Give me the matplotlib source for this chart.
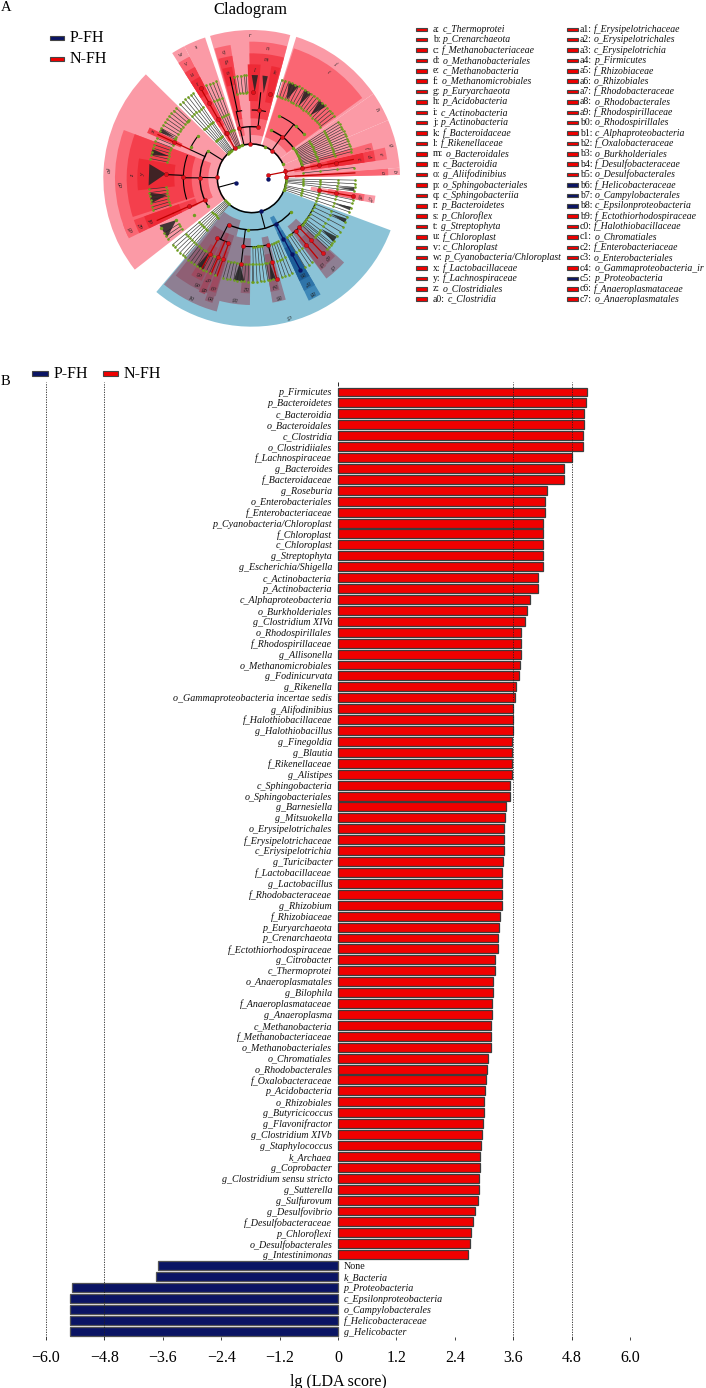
import matplotlib
matplotlib.use("Agg")
import matplotlib.pyplot as plt
from matplotlib.patches import Wedge, Rectangle, Polygon, Arc, Circle
import numpy as np

plt.rcParams['font.family'] = ['Liberation Serif', 'DejaVu Serif']

# ---------------- LDA bars ----------------
taxa_pos = ["p_Firmicutes","p_Bacteroidetes","c_Bacteroidia","o_Bacteroidales","c_Clostridia","o_Clostridiiales",
"f_Lachnospiraceae","g_Bacteroides","f_Bacteroidaceae","g_Roseburia","o_Enterobacteriales","f_Enterobacteriaceae",
"p_Cyanobacteria/Chloroplast","f_Chloroplast","c_Chloroplast","g_Streptophyta","g_Escherichia/Shigella","c_Actinobacteria",
"p_Actinobacteria","c_Alphaproteobacteria","o_Burkholderiales","g_Clostridium XIVa","o_Rhodospirillales","f_Rhodospirillaceae",
"g_Allisonella","o_Methanomicrobiales","g_Fodinicurvata","g_Rikenella","o_Gammaproteobacteria incertae sedis","g_Alifodinibius",
"f_Halothiobacillaceae","g_Halothiobacillus","g_Finegoldia","g_Blautia","f_Rikenellaceae","g_Alistipes","c_Sphingobacteria",
"o_Sphingobacteriales","g_Barnesiella","g_Mitsuokella","o_Erysipelotrichales","f_Erysipelotrichaceae","c_Eriysipelotrichia",
"g_Turicibacter","f_Lactobacillaceae","g_Lactobacillus","f_Rhodobacteraceae","g_Rhizobium","f_Rhizobiaceae","p_Euryarchaeota",
"p_Crenarchaeota","f_Ectothiorhodospiraceae","g_Citrobacter","c_Thermoprotei","o_Anaeroplasmatales","g_Bilophila",
"f_Anaeroplasmataceae","g_Anaeroplasma","c_Methanobacteria","f_Methanobacteriaceae","o_Methanobacteriales","o_Chromatiales",
"o_Rhodobacterales","f_Oxalobacteraceae","p_Acidobacteria","o_Rhizobiales","g_Butyricicoccus","g_Flavonifractor",
"g_Clostridium XIVb","g_Staphylococcus","k_Archaea","g_Coprobacter","g_Clostridium sensu stricto","g_Sutterella","g_Sulfurovum",
"g_Desulfovibrio","f_Desulfobacteraceae","p_Chloroflexi","o_Desulfobacterales","g_Intestinimonas"]
scores_pos = [5.12,5.09,5.06,5.06,5.03,5.03,4.80,4.64,4.64,4.29,4.26,4.26,4.22,4.22,4.22,4.22,4.21,4.10,4.10,3.94,3.88,3.84,
3.77,3.77,3.77,3.73,3.71,3.66,3.63,3.60,3.59,3.59,3.58,3.58,3.57,3.57,3.54,3.53,3.46,3.44,3.41,3.41,3.41,3.39,3.38,3.38,3.37,
3.36,3.33,3.30,3.29,3.28,3.23,3.22,3.19,3.18,3.17,3.17,3.15,3.14,3.14,3.08,3.07,3.04,3.02,3.00,2.99,2.97,2.96,2.94,2.92,2.91,
2.90,2.89,2.88,2.82,2.77,2.74,2.71,2.68]
taxa_neg = ["None","k_Bacteria","p_Proteobacteria","c_Epsilonproteobacteria","o_Campylobacterales","f_Helicobacteraceae","g_Helicobacter"]
scores_neg = [-3.70,-3.74,-5.46,-5.50,-5.50,-5.50,-5.50]
xticks = [-6.0,-4.8,-3.6,-2.4,-1.2,0,1.2,2.4,3.6,4.8,6.0]
xticklabels = ["\u22126.0","\u22124.8","\u22123.6","\u22122.4","\u22121.2","0","1.2","2.4","3.6","4.8","6.0"]

# ---------------- cladogram key ----------------
key_col1 = [("a","c_Thermoprotei"),("b","p_Crenarchaeota"),("c","f_Methanobacteriaceae"),("d","o_Methanobacteriales"),
("e","c_Methanobacteria"),("f","o_Methanomicrobiales"),("g","p_Euryarchaeota"),("h","p_Acidobacteria"),("i","c_Actinobacteria"),
("j","p_Actinobacteria"),("k","f_Bacteroidaceae"),("l","f_Rikenellaceae"),("m","o_Bacteroidales"),("n","c_Bacteroidia"),
("o","g_Aliifodinibius"),("p","o_Sphingobacteriales"),("q","c_Sphingobacteriia"),("r","p_Bacteroidetes"),("s","p_Chloroflex"),
("t","g_Streptophyta"),("u","f_Chloroplast"),("v","c_Chloroplast"),("w","p_Cyanobacteria/Chloroplast"),("x","f_Lactobacillaceae"),
("y","f_Lachnospiraceae"),("z","o_Clostridiales"),("a0","c_Clostridia")]
key_col2 = [("a1","f_Erysipelotrichaceae"),("a2","o_Erysipelotrichales"),("a3","c_Erysipelotrichia"),("a4","p_Firmicutes"),
("a5","f_Rhizobiaceae"),("a6","o_Rhizobiales"),("a7","f_Rhodobacteraceae"),("a8","o_Rhodobacterales"),("a9","f_Rhodospirillaceae"),
("b0","o_Rhodospirillales"),("b1","c_Alphaproteobacteria"),("b2","f_Oxalobacteraceae"),("b3","o_Burkholderiales"),
("b4","f_Desulfobacteraceae"),("b5","o_Desulfobacterales"),("b6","f_Helicobacteraceae"),("b7","o_Campylobacterales"),
("b8","c_Epsilonproteobacteria"),("b9","f_Ectothiorhodospiraceae"),("c0","f_Halothiobacillaceae"),("c1","o_Chromatiales"),
("c2","f_Enterobacteriaceae"),("c3","o_Enterobacteriales"),("c4","o_Gammaproteobacteria_ir"),("c5","p_Proteobacteria"),
("c6","f_Anaeroplasmataceae"),("c7","o_Anaeroplasmatales")]
navy_keys = {"b6","b7","b8","c5"}

# ---------------- cladogram geometry tables (degrees, radii in 1/3 px) ----------------
RING = [50,103,155,205,258,310]
PINK="#FB9AA6"; R2="#FA6673"; R3="#F43F4C"; R4="#EE2A36"
BL="#8BC3D7"; P1="#8E7F93"; P2="#8F5F74"; P3="#9E4A60"; E1="#3F88B8"; E2="#2E74A9"; E3="#1D5E98"
# (a0,a1,r0,r1,colour,label)
wedges = [
(135.5,218,100,445,PINK,"a4"),(159.3,205.3,130,410,R2,"a0"),(159.3,198,180,375,R3,"z"),(170,186,232,343,R4,"y"),
(153.5,156.5,232,342,R3,"x"),(199.5,206,130,410,R2,"a3"),(199.5,206,180,375,R3,"a2"),(199.5,206,232,342,R4,"a1"),
(108.3,117,100,445,PINK,"s"),(117,122.4,100,445,PINK,"w"),(117,122.4,130,410,R2,"v"),(117,122.4,180,375,R3,"u"),(117,122.4,285,342,R4,"t"),
(74.9,106.3,100,445,PINK,"r"),(75,91,130,410,R2,"n"),(75,91,180,375,R3,"m"),(85.5,92,232,342,R4,"l"),(75.5,80,232,342,R4,"k"),
(99,106,130,405,R2,"q"),(99,105.5,180,372,R3,"p"),(100,105,285,340,R4,"o"),
(34.8,72.5,100,445,PINK,"j"),(36,72,130,410,R2,"i"),
(23.1,34.8,100,445,PINK,"h"),(4.1,23.1,100,445,PINK,"g"),(8,13,130,410,R2,"e"),(8,13,180,375,R3,"d"),(8,13,232,342,R4,"c"),
(13,16.5,180,375,R2,"f"),(1.3,4.1,100,445,PINK,"b"),(1.3,4.1,130,410,R2,"a"),
(-8,-11.5,180,375,PINK,"c7"),(-8,-11.5,232,342,R2,"c6"),
(230,339.5,100,445,BL,"c5"),(230.4,255.3,130,413,P1,"b1"),(254.6,269.2,180,380,P1,"b3"),(264.5,269,232,345,P2,"b2"),
(279.5,285.7,180,378,P1,"b5"),(279.5,284,232,345,P2,"b4"),
(295,300.7,130,405,E1,"b8"),(295,300.7,180,372,E2,"b7"),(295,300.7,232,340,E3,"b6"),
(306.7,317.7,180,375,P1,"c3"),(310.5,317,232,342,P2,"c0"),(307,310.5,232,345,P2,"c1"),
(232,253,180,370,P2,"a6"),(238,244,232,342,P3,"a5"),(245,248,180,375,P3,"a8"),(245,248,232,342,P3,"a7"),(249,252.5,180,392,P2,"b0"),(249,252.5,232,360,P3,"a9"),
]
# (start level, angles) : unbranched green lineages running to the outer ring
strands = [
(1,[134,132,130,128,126,124.5]),(1,[116,114,112,110]),(2,[33,31.5,30,28.5,27,25.5,24,22.5,21,19.5,18,16.5,15,6]),
(1,[-1,-3,-5,-7,-12,-14,-16.5,-19]),(1,[220,222,224,226,228,229.5]),(3,[-22,-25,-28,-31,-34,-37,-40,-43]),
(3,[301,303.5,305.5,318.5,321]),(3,[271,273,275,277,279,287,289,291,293]),
(4,[137,139,141,143,145,147,149,151,153,157,159,161,163,165,167,169,186,188,190,192,194,196,198]),
(4,[96,98,100,93,94,73,71,69,67,65,63,61,59,57,55,53,51,49,47,45,43,41,39,37]),
(4,[232,234,236,238,240,242,244,246,249,254,256,258,260,262,264,266,268,270,280,282,284]),
(4,[212,214,216]),
]
# (level, apex angle, tip a0, tip a1) : dense black fans of tips
fans = [(4,177,172,184),(4,165,163.5,167),(4,191,188,194),(4,209,207,215),(4,82,81,84),(4,66,63,69),(4,88,86.5,90),(4,57,55,59),
(4,47,44,49),(4,152,151,153.5),(4,262,260,266),(4,240,238,242),(4,282,280.5,283.5),(4,-24,-23,-25.5),(4,-36,-34.5,-38),
(4,-6,-5,-7),(4,-17,-16,-18)]
# (level, a0, a1, colour) : connecting arcs
arcs = [(1,25,358,'k'),(1,4,16,'#c00'),(2,103.8,82.5,'k'),(2,147.8,213,'k'),(2,243,320,'k'),(2,68,36,'k'),(2,11,33,'k'),
(3,66,40,'k'),(3,141.6,153,'k'),(3,160,198,'k'),(3,263,284,'k'),(3,240,250,'k'),(3,303,338,'k'),(3,103,98,'k'),(3,78,90,'k')]
# (level from, level to, angle, colour) : red / navy highlighted links
links = [(0,1,195,'k'),(0,1,11,'#c00000'),(1,2,179,'k'),(2,3,179.5,'k'),(3,4,177.5,'k'),(1,2,92,'k'),(2,3,83,'k'),(3,4,84,'k'),
(1,2,54,'k'),(2,3,52,'k'),(2,3,205,'#c00000'),(3,4,204,'#c00000'),(4,5,204,'#c00000'),(1,2,148,'k'),(1,2,285,'k'),
(2,3,297.6,'#0a1464'),(3,4,298,'#0a1464'),(4,5,298,'#0a1464'),(3,4,314,'#c00000'),(4,5,313.5,'#c00000'),(3,4,309.5,'#c00000'),(4,5,309.5,'#c00000'),
(3,4,241,'#c00000'),(4,5,241,'#c00000'),(3,4,247,'#c00000'),(4,5,247,'#c00000'),(2,3,243,'k'),(3,4,250.5,'#c00000'),(4,5,250.5,'#c00000'),
(2,3,263,'k'),(3,4,263,'k'),(3,4,284,'k'),(4,5,284,'#c00000'),(3,4,119.5,'#c00000'),(4,5,119.5,'#c00000'),(2,3,119.5,'#c00000'),(1,2,119.5,'#c00000'),
(1,2,11,'#c00000'),(2,3,11,'#c00000'),(3,4,10.5,'#c00000'),(4,5,10.5,'#c00000'),(1,5,3,'#c00000'),(3,5,-10,'#c00000'),(2,3,155,'k'),
(3,4,155,'#c00000'),(4,5,155,'#c00000'),(1,2,103,'k'),(2,3,103,'k'),(3,5,102,'k'),(0,0,-2,'k')]
# (level, angle) of highlighted nodes
red_nodes = [(0,11),(1,178),(2,180),(3,179),(4,177),(1,92),(2,82.5),(2,103.8),(3,83.6),(4,89),(4,78),(1,119.5),(2,119.5),(3,119.5),(4,119.5),(5,119.5),
(1,54),(2,54),(1,13),(2,11),(3,11),(4,10.5),(1,3),(3,-10),(4,-10),(5,-10),(4,155),(2,205),(3,204),(2,243.4),(3,240),(3,250),(3,263),(3,284),(3,310),(3,314),(4,314),(4,309),(5,313.5),
(4,241),(4,247),(4,250.5),(4,263),(4,284),(5,284),(2,119)]
navy_nodes = [(0,195),(0,-2),(1,285),(2,297.5),(3,297.6),(4,298),(5,298)]
green_nodes = [(1,131),(1,106),(1,68),(2,147.8),(2,266),(2,320),(2,68),(2,36),(2,213),(3,141.6),(3,153),(3,212),(3,50),(3,66),(3,40),(3,275.5),(1,25),(1,-20),(4,138),(4,153),(4,209),(5,209)]

# ---------------- figure ----------------
W, H = 706, 1388
fig = plt.figure(figsize=(W/100, H/100), dpi=100)

def axpx(x0, y0, x1, y1, **k):
    return fig.add_axes([x0/W, 1-y1/H, (x1-x0)/W, (y1-y0)/H], **k)

# Panel B bars
ax = axpx(46, 382, 630, 1340)
ypos_p = np.arange(len(taxa_pos))
ypos_n = np.arange(len(taxa_neg)) + len(taxa_pos)
ax.barh(ypos_p, scores_pos, height=0.82, color="#F00000", edgecolor="#3c3c3c", linewidth=0.9, zorder=2)
ax.barh(ypos_n, scores_neg, height=0.82, color="#0A1464", edgecolor="#555555", linewidth=0.9, zorder=2)
ax.set_xlim(-6, 6)
ytop = (382-392)/10.92
ax.set_ylim((1340-392)/10.92, ytop)
for s in ax.spines.values():
    s.set_visible(False)
ax.set_yticks([])
ax.set_xticks(xticks)
ax.set_xticklabels(xticklabels, fontsize=11.5)
ax.tick_params(axis='x', direction='in', length=2.5, width=0.6, pad=7, color='#222222', top=False, bottom=True)
ax.vlines(0, ytop, ytop+0.4, color='#222222', lw=0.7)
for v in (-6.0,-4.8,3.6,4.8):
    ax.axvline(v, color='#222222', lw=0.6, ls=(0,(1.5,1.5)), zorder=3)
ax.set_xlabel("lg (LDA score)", fontsize=11.5, labelpad=6)
for y, t in zip(ypos_p, taxa_pos):
    ax.annotate(t, (0, y), xytext=(-4.2, -0.7), textcoords='offset points', ha='right', va='center', fontsize=7.2, style='italic', color='#111111')
for y, t in zip(ypos_n, taxa_neg):
    st = 'normal' if t == 'None' else 'italic'
    ax.annotate(t, (0, y), xytext=(4.2, -0.7), textcoords='offset points', ha='left', va='center', fontsize=7.2, style=st, color='#111111')

# Cladogram
c = axpx(0, 0, 410, 340)
c.set_xlim(-755, 1230-755); c.set_ylim(535-1020, 535); c.axis('off'); c.patch.set_alpha(0)
def P(r, a):
    t = np.deg2rad(a); return r*np.cos(t), r*np.sin(t)
for a0, a1, r0, r1, col, lab in wedges:
    lo, hi = min(a0,a1), max(a0,a1)
    c.add_patch(Wedge((0,0), r1, lo, hi, width=r1-r0, facecolor=col, edgecolor='none', zorder=1))
    xm, ym = P(r1-17, (lo+hi)/2)
    c.text(xm, ym, lab, fontsize=4.3, style='italic', rotation=(lo+hi)/2-90, rotation_mode='anchor', ha='center', va='center', color='#222222', zorder=6)
c.add_patch(Circle((0,0), 100, facecolor='white', edgecolor='none', zorder=1.5))
for lev, a0, a1, col in arcs:
    lo, hi = min(a0,a1), max(a0,a1)
    r = RING[lev]
    lw = {1:1.1,2:1.0,3:0.8}[lev]
    c.add_patch(Arc((0,0), 2*r, 2*r, theta1=lo, theta2=hi, color=col, lw=lw, zorder=3))
for lev, angs in strands:
    for a in angs:
        xs, ys = zip(P(RING[lev], a), P(RING[5], a))
        c.plot(xs, ys, color='#333333', lw=0.45, zorder=3)
        gx, gy = zip(*[P(RING[l], a) for l in range(lev, 6)])
        c.scatter(gx, gy, s=3.4, color='#6E9E1E', linewidths=0, zorder=5)
for lev, ap, a0, a1 in fans:
    c.add_patch(Polygon([P(RING[lev], ap), P(RING[5], a0), P(RING[5], a1)], closed=True, facecolor='#222222', alpha=0.85, edgecolor='none', zorder=3))
for l0, l1, a, col in links:
    xs, ys = zip(P(RING[l0], a), P(RING[l1], a))
    c.plot(xs, ys, color=col, lw=0.9 if col != 'k' else 0.8, zorder=4)
for l, a in green_nodes:
    x, y = P(RING[l], a); c.scatter([x],[y], s=6, color='#6E9E1E', linewidths=0, zorder=5.5)
for l, a in red_nodes:
    x, y = P(RING[l], a); c.scatter([x],[y], s=9, color='#E0101A', edgecolors='#5a0000', linewidths=0.2, zorder=6)
for l, a in navy_nodes:
    x, y = P(RING[l], a); c.scatter([x],[y], s=10, color='#0A1464', linewidths=0, zorder=6)

# Overlay in pixels: legends, key, panel letters
o = axpx(0, 0, W, H); o.set_xlim(0, W); o.set_ylim(H, 0); o.axis('off'); o.patch.set_alpha(0)
NAVY, RED = "#0A1464", "#F00000"
def swatch(x, y, w, h, col):
    o.add_patch(Rectangle((x, y-h/2), w, h, facecolor=col, edgecolor='#444444', lw=0.8, zorder=5))
o.text(1, 7, "A", fontsize=10.5, va='center')
o.text(1, 381, "B", fontsize=10.5, va='center')
o.text(250, 10, "Cladogram", fontsize=12, ha='center', va='center')
swatch(50, 38, 14, 4, NAVY); o.text(70, 38, "P-FH", fontsize=11.5, va='center')
swatch(50, 59, 14, 4, RED);  o.text(70, 59, "N-FH", fontsize=11.5, va='center')
swatch(32, 373.5, 16, 5, NAVY); o.text(54, 373.5, "P-FH", fontsize=11.5, va='center')
swatch(103, 373.5, 15, 5, RED); o.text(124, 373.5, "N-FH", fontsize=11.5, va='center')

def key(col, xp, xt):
    for i, (k, name) in enumerate(col):
        y = 29.3 + 10.38*i
        swatch(xp, y, 11, 3.5, NAVY if k in navy_keys else RED)
        t = o.text(xt, y, k + ":", fontsize=7.0, va='center', color='#111111')
        o.annotate(name, xy=(1, 0.5), xycoords=t, xytext=(1.6, 0), textcoords='offset points', va='center', ha='left',
                   fontsize=7.0, style='italic', color='#111111')
key(key_col1, 416, 433)
key(key_col2, 567, 580)

fig.savefig("out.png", dpi=100)
